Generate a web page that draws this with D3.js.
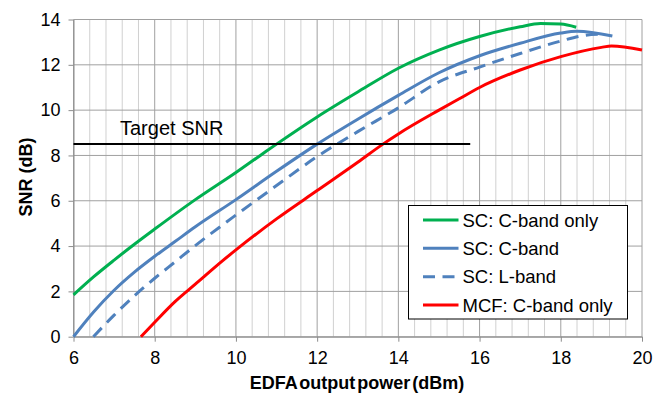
<!DOCTYPE html>
<html>
<head>
<meta charset="utf-8">
<script src="https://cdn.jsdelivr.net/npm/d3@7"></script>
<style>
  body { margin: 0; background: #fff; }
  text { font-family: "Liberation Sans", Arial, sans-serif; }
</style>
</head>
<body>
<div id="chart"></div>
<script>
const width = 664;
const height = 395;

// data
const xTicks = [6, 8, 10, 12, 14, 16, 18, 20];
const yTicks = [0, 2, 4, 6, 8, 10, 12, 14];

const scCOnlyX = [6, 6.5, 7, 7.5, 8, 9, 10, 10.6, 11, 12, 13, 14, 15, 16, 17, 17.5, 18, 18.38];
const scCOnlyY = [1.85, 2.65, 3.38, 4.08, 4.75, 6.05, 7.25, 8.0, 8.5, 9.7, 10.8, 11.85, 12.65, 13.25, 13.68, 13.82, 13.8, 13.66];

const scCX = [6, 6.5, 7, 7.5, 8, 8.5, 9, 10, 11, 12, 13, 14, 15, 16, 17, 18, 18.4, 19.27];
const scCY = [0, 1.1, 2.05, 2.85, 3.55, 4.2, 4.85, 6.05, 7.3, 8.5, 9.6, 10.65, 11.65, 12.4, 12.95, 13.4, 13.48, 13.27];

const scLX = [6.49, 7, 7.62, 8, 8.5, 9, 10, 11, 12, 13, 14, 15, 16, 17, 18, 18.6, 19.0];
const scLY = [0, 0.95, 2.0, 2.58, 3.3, 4.02, 5.37, 6.67, 7.95, 9.05, 10.1, 11.25, 11.9, 12.5, 13.05, 13.3, 13.35];

const mcfX = [7.66, 8, 8.5, 9, 9.69, 10, 11, 12, 13, 13.62, 14, 15, 15.5, 16, 17, 18, 19, 19.25, 20];
const mcfY = [0, 0.64, 1.55, 2.32, 3.38, 3.83, 5.2, 6.45, 7.7, 8.5, 8.95, 10.0, 10.5, 11.0, 11.77, 12.36, 12.77, 12.83, 12.65];

const targetSNR = 8.5;
const targetXEnd = 15.77;

const seriesNames = ['SC: C-band only', 'SC: C-band', 'SC: L-band', 'MCF: C-band only'];
const seriesColors = ['#00b050', '#4f81bd', '#4f81bd', '#ff0000'];
const seriesDash = [null, null, '12,7.5', null];
const seriesData = [
    d3.zip(scCOnlyX, scCOnlyY),
    d3.zip(scCX, scCY),
    d3.zip(scLX, scLY),
    d3.zip(mcfX, mcfY)
];

const svg = d3.select('#chart').append('svg')
    .attr('width', width)
    .attr('height', height);

const x = d3.scaleLinear().domain([6, 20]).range([73.5, 642]);
const y = d3.scaleLinear().domain([0, 14]).range([336.7, 19.5]);

// minor vertical grid every 0.4
const minorX = d3.range(6.4, 20, 0.4).filter(v => Math.abs(v / 2 - Math.round(v / 2)) > 0.01);
svg.append('g').selectAll('line')
    .data(minorX)
    .enter().append('line')
    .attr('x1', d => x(d)).attr('x2', d => x(d))
    .attr('y1', y(0)).attr('y2', y(14))
    .attr('stroke', '#d0d0d0')
    .attr('stroke-width', 1);

// major grid
svg.append('g').selectAll('line')
    .data(xTicks)
    .enter().append('line')
    .attr('x1', d => x(d)).attr('x2', d => x(d))
    .attr('y1', y(0)).attr('y2', y(14))
    .attr('stroke', '#a0a0a0')
    .attr('stroke-width', 1);

svg.append('g').selectAll('line')
    .data(yTicks)
    .enter().append('line')
    .attr('x1', x(6)).attr('x2', x(20))
    .attr('y1', d => y(d)).attr('y2', d => y(d))
    .attr('stroke', '#a0a0a0')
    .attr('stroke-width', 1);

// axes
const xAxis = svg.append('g')
    .attr('transform', 'translate(0,' + y(0) + ')')
    .call(d3.axisBottom(x).tickValues(xTicks).tickSize(5).tickPadding(10).tickSizeOuter(0));
const yAxis = svg.append('g')
    .attr('transform', 'translate(' + x(6) + ',0)')
    .call(d3.axisLeft(y).tickValues(yTicks).tickSize(5).tickPadding(8).tickSizeOuter(0));

[xAxis, yAxis].forEach(a => {
    a.select('.domain').attr('stroke', '#8c8c8c');
    a.selectAll('.tick line').attr('stroke', '#8c8c8c');
    a.selectAll('.tick text')
        .attr('fill', '#000')
        .style('font-size', '18px')
        .style('font-family', '"Liberation Sans", Arial, sans-serif');
});

// curves
const line = d3.line()
    .x(d => x(d[0]))
    .y(d => y(d[1]))
    .curve(d3.curveMonotoneX);

seriesData.forEach((data, i) => {
    svg.append('path').datum(data)
        .attr('fill', 'none')
        .attr('stroke', seriesColors[i])
        .attr('stroke-width', 3)
        .attr('stroke-dasharray', seriesDash[i])
        .attr('d', line);
});

// target SNR
svg.append('line')
    .attr('x1', x(6)).attr('x2', x(targetXEnd))
    .attr('y1', y(targetSNR)).attr('y2', y(targetSNR))
    .attr('stroke', '#000')
    .attr('stroke-width', 2);

svg.append('text')
    .attr('x', 120)
    .attr('y', 135)
    .style('font-size', '20px')
    .text('Target SNR');

// axis titles
svg.append('text')
    .attr('x', 357)
    .attr('y', 389)
    .attr('text-anchor', 'middle')
    .style('font-size', '18px')
    .style('font-weight', 'bold')
    .style('word-spacing', '-3px')
    .text('EDFA output power (dBm)');

svg.append('text')
    .attr('transform', 'translate(32,177) rotate(-90)')
    .attr('text-anchor', 'middle')
    .style('font-size', '18px')
    .style('font-weight', 'bold')
    .text('SNR (dB)');

// legend
const legend = svg.append('g');
legend.append('rect')
    .attr('x', 408.5).attr('y', 205.5)
    .attr('width', 219).attr('height', 113.5)
    .attr('fill', '#fff')
    .attr('stroke', '#000')
    .attr('stroke-width', 1);

const legendY = [220, 248.3, 276.7, 305];
seriesNames.forEach((name, i) => {
    legend.append('line')
        .attr('x1', 423).attr('x2', 458.5)
        .attr('y1', legendY[i]).attr('y2', legendY[i])
        .attr('stroke', seriesColors[i])
        .attr('stroke-width', 3)
        .attr('stroke-dasharray', seriesDash[i]);
    legend.append('text')
        .attr('x', 462.5)
        .attr('y', legendY[i] + 6.5)
        .style('font-size', '18.5px')
        .text(name);
});
</script>
</body>
</html>
